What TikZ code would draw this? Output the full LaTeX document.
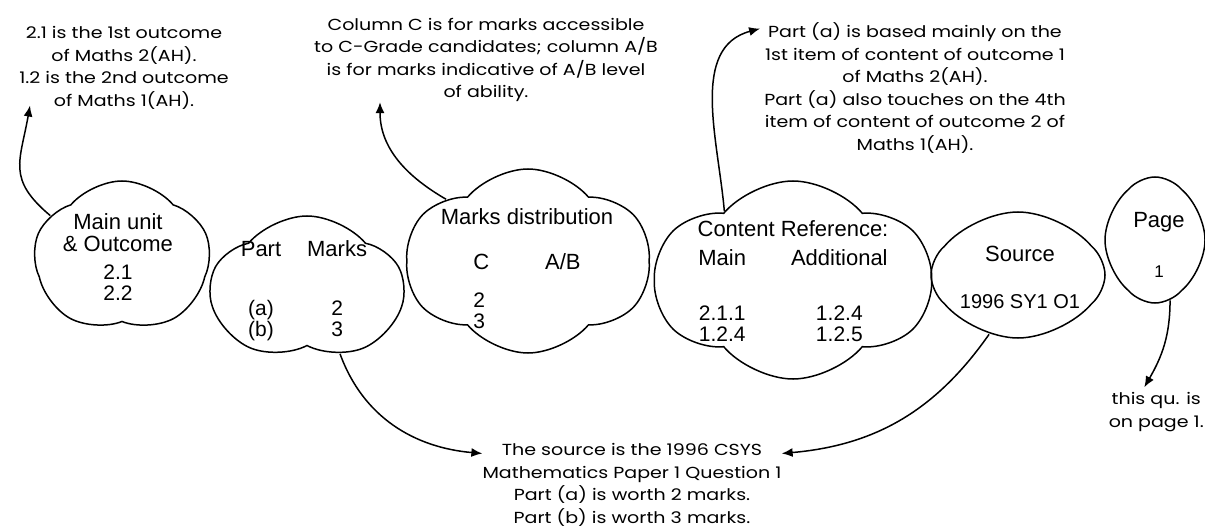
\documentclass[tikz,border=0pt]{standalone}
\usepackage{fontspec}
\setmainfont{Liberation Sans}
\newfontfamily\notefont{Poppins}[FakeStretch=1.19]
\usetikzlibrary{arrows.meta, positioning, calc, shapes.symbols}
\newcommand{\cifra}{\fontsize{21}{21}\selectfont}
\tikzset{
    nube/.style={
        cloud, cloud puffs=5, cloud puff arc=100, cloud ignores aspect,
        draw=black, line width=1.5pt, inner sep=0pt
    },
    texto/.style={
        align=center, inner sep=0pt,
        font=\fontsize{22}{22}\selectfont
    },
    nota/.style={
        align=center, inner sep=0pt,
        font=\notefont\fontsize{16}{22.5}\selectfont
    },
    flecha/.style={-{Latex[length=11pt,width=9pt]}, line width=1.5pt}
}

\begin{document}
\begin{tikzpicture}[x=1pt, y=-1pt]
    \useasboundingbox (0,0) rectangle (1205,527);

    % clouds
    \node[nube, minimum width=176pt, minimum height=152pt] (unidad) at (122,257) {};
    \node[nube, shape border rotate=18, minimum width=192pt, minimum height=146pt] (partes) at (307,289) {};
    \node[nube, cloud puffs=6, minimum width=244pt, minimum height=184pt] (reparto) at (528,261) {};
    \node[nube, cloud puffs=6, shape border rotate=15, minimum width=276pt, minimum height=198pt] (contenido) at (793,280) {};
    \node[nube, cloud puffs=4, shape border rotate=45, minimum width=174pt, minimum height=126pt] (fuente) at (1018,275) {};
    \node[nube, cloud puffs=4, minimum width=100pt, minimum height=126pt] (pagina) at (1155,240) {};

    % cloud texts
    \node[texto] (unidad-t) at (121,260) {
        \begin{tabular}{@{}c@{}}
            Main unit\\
            \& Outcome\\[6pt]
            \cifra 2.1\\[-1pt]
            \cifra 2.2
        \end{tabular}
    };

    \node[texto] (partes-t) at (307,292) {
        \begin{tabular}{@{}c@{\hspace{26pt}}c@{}}
            Part & Marks\\[37pt]
            \cifra (a) & \cifra 2\\[-1pt]
            \cifra (b) & \cifra 3
        \end{tabular}
    };

    \node[texto] (reparto-t) at (527,272) {
        Marks distribution\\[23pt]
        \begin{tabular}[t]{@{}l@{\hspace{56pt}}l@{}}
            C & A/B\\[16pt]
            \cifra 2 & \\[-1pt]
            \cifra 3 &
        \end{tabular}
    };

    \node[texto] (contenido-t) at (793,284) {
        Content Reference:\\[7pt]
        \begin{tabular}[t]{@{}c@{\hspace{45pt}}c@{}}
            Main & Additional\\[33pt]
            \cifra 2.1.1 & \cifra 1.2.4\\[-1pt]
            \cifra 1.2.4 & \cifra 1.2.5
        \end{tabular}
    };

    \node[texto] (fuente-t) at (1020,277) {
        Source\\[25pt]
        {\fontsize{20}{20}\selectfont 1996 SY1 O1}
    };

    \node[texto] (pagina-t) at (1159,245) {
        Page\\[28pt]
        {\fontsize{17}{18}\selectfont 1}
    };

    % notes
    \node[nota] (nota1) at (124,68) {
        2.1 is the 1st outcome\\
        of Maths 2(AH).\\
        1.2 is the 2nd outcome\\
        of Maths 1(AH).
    };

    \node[nota] (nota2) at (486,60) {
        Column C is for marks accessible\\
        to C-Grade candidates; column A/B\\
        is for marks indicative of A/B level\\
        of ability.
    };

    \node[nota] (nota3) at (632,485) {
        The source is the 1996 CSYS\\
        Mathematics Paper 1 Question 1\\
        Part (a) is worth 2 marks.\\
        Part (b) is worth 3 marks.
    };

    \node[nota] (nota4) at (915,88) {
        Part (a) is based mainly on the\\
        1st item of content of outcome 1\\
        of Maths 2(AH).\\
        Part (a) also touches on the 4th\\
        item of content of outcome 2 of\\
        Maths 1(AH).
    };

    \node[nota, anchor=east] (nota5) at (1204,412) {
        this qu. is\\
        on page 1.
    };

    % connectors
    \draw[flecha] (unidad.150) to[out=140, in=-100, looseness=1.3] ([xshift=-94pt, yshift=4pt]nota1.south);
    \draw[flecha] (reparto.143) to[out=150, in=-90] ([xshift=-106pt]nota2.south);
    \draw[flecha] (contenido.135) to[out=95, in=195] ([xshift=-4pt, yshift=-6pt]nota4.north west);
    \draw[flecha] (partes.297) to[out=-70, in=175] ([yshift=-10pt]nota3.north west);
    \draw[flecha] (fuente.244) to[out=235, in=5] ([yshift=-10pt]nota3.north east);
    \draw[flecha] (pagina.284) to[out=-90, in=60] ([xshift=-12pt, yshift=5pt]nota5.north);

\end{tikzpicture}
\end{document}
